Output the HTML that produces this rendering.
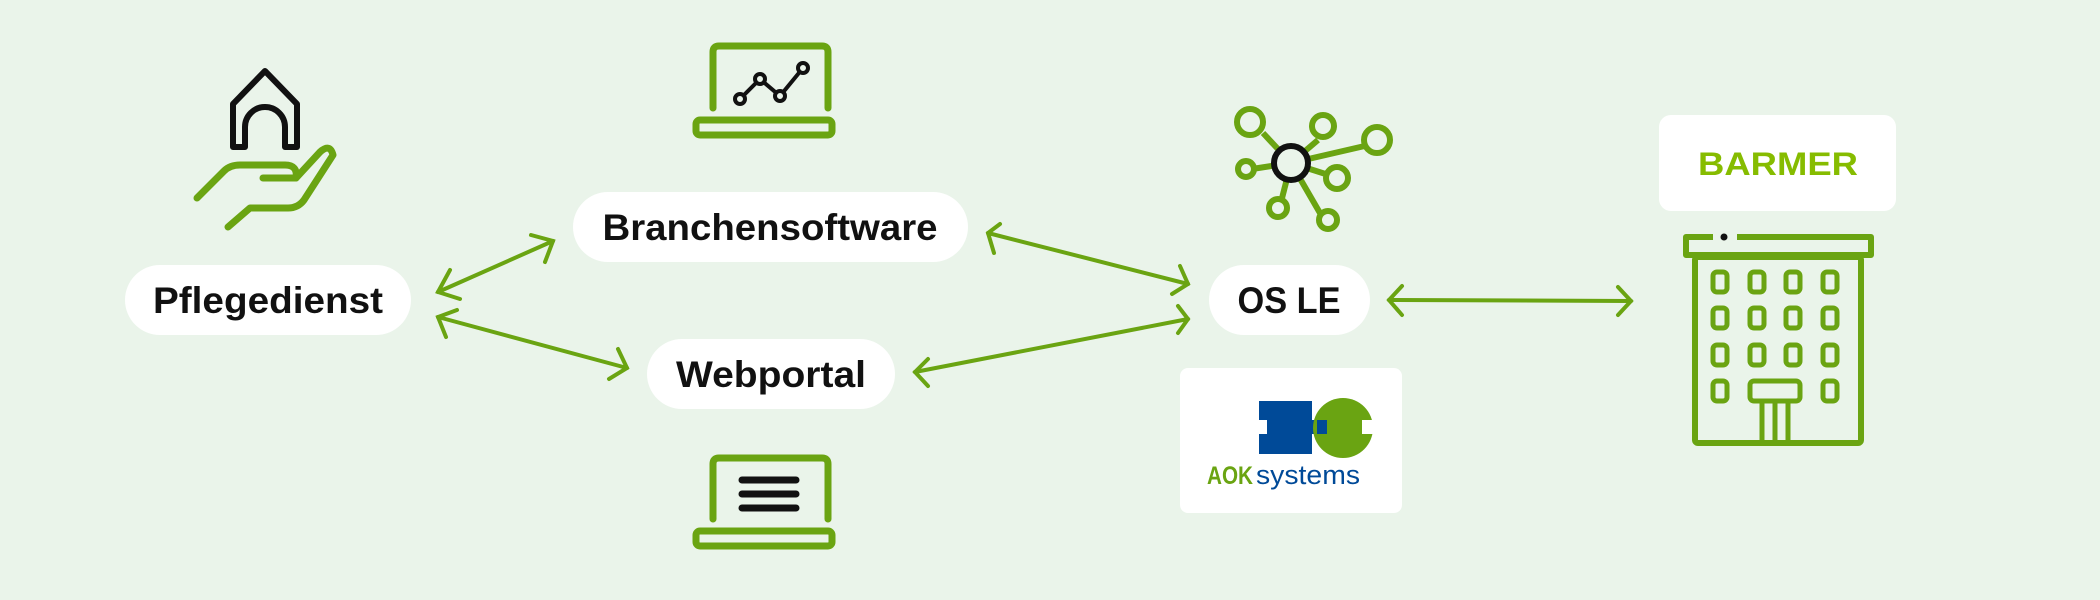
<!DOCTYPE html>
<html><head><meta charset="utf-8"><style>
html,body{margin:0;padding:0;background:#eaf4ea;}
svg{display:block}
text{font-family:"Liberation Sans",sans-serif;}
</style></head><body>
<svg width="2100" height="600" viewBox="0 0 2100 600" xmlns="http://www.w3.org/2000/svg">
<rect width="2100" height="600" fill="#eaf4ea"/>
<g fill="#fff">
<rect x="125" y="265" width="286" height="70" rx="35"/>
<rect x="573" y="192" width="395" height="70" rx="35"/>
<rect x="647" y="339" width="248" height="70" rx="35"/>
<rect x="1209" y="265" width="161" height="70" rx="35"/>
<rect x="1180" y="368" width="222" height="145" rx="8"/>
<rect x="1659" y="115" width="237" height="96" rx="12"/>
</g>
<g font-size="37" font-weight="bold" fill="#111" text-anchor="middle">
<text x="268" y="313" textLength="230" lengthAdjust="spacingAndGlyphs">Pflegedienst</text>
<text x="770" y="240" textLength="335" lengthAdjust="spacingAndGlyphs">Branchensoftware</text>
<text x="771" y="387" textLength="190" lengthAdjust="spacingAndGlyphs">Webportal</text>
<text x="1289" y="313" textLength="103" lengthAdjust="spacingAndGlyphs">OS LE</text>
</g>
<text x="1778" y="175" font-size="32" font-weight="bold" fill="#86bc00" text-anchor="middle" textLength="160" lengthAdjust="spacingAndGlyphs">BARMER</text>
<!-- AOK logo -->
<rect x="1259" y="401" width="53" height="53" fill="#004a98"/>
<rect x="1259" y="420" width="8" height="14" fill="#fff"/>
<rect x="1305" y="420" width="12" height="14" fill="#004a98"/>
<circle cx="1343" cy="428" r="30" fill="#6aa412"/>
<rect x="1317" y="420" width="10" height="14" fill="#004a98"/>
<rect x="1362" y="420" width="12" height="14" fill="#fff"/>
<text x="1207" y="484" font-size="25" font-weight="bold" fill="#6aa412" textLength="46" lengthAdjust="spacingAndGlyphs">AOK</text>
<text x="1256" y="484" font-size="27" fill="#004a98" textLength="104" lengthAdjust="spacingAndGlyphs">systems</text>
<!-- arrows -->
<g stroke="#6aa412" stroke-width="4" fill="none" stroke-linecap="round">
<line x1="438" y1="292" x2="553" y2="241"/>
<polyline points="450,270 438,292 460,299"/>
<polyline points="531,235 553,241 545,262"/>
<line x1="438" y1="317" x2="627" y2="368"/>
<polyline points="446,337 438,317 457,310"/>
<polyline points="618,349 627,368 609,379"/>
<line x1="988" y1="233" x2="1188" y2="284"/>
<polyline points="1000,224 988,233 994,253"/>
<polyline points="1180,266 1188,284 1172,294"/>
<line x1="915" y1="372" x2="1188" y2="319"/>
<polyline points="928,359 915,372 928,386"/>
<polyline points="1178,306 1188,319 1178,333"/>
<line x1="1389" y1="300" x2="1631" y2="301"/>
<polyline points="1402,286 1389,300 1402,315"/>
<polyline points="1618,287 1631,301 1618,315"/>
</g>
<!-- laptops -->
<g stroke="#6aa412" stroke-width="7" fill="none" stroke-linecap="round" stroke-linejoin="round">
<path d="M713 108 V52 Q713 46 719 46 H822 Q828 46 828 52 V108"/>
<rect x="696" y="120" width="136" height="15" rx="4"/>
<path d="M713 519 V464 Q713 458 719 458 H822 Q828 458 828 464 V519"/>
<rect x="696" y="531" width="136" height="15" rx="4"/>
</g>
<g stroke="#111" stroke-width="4" fill="none">
<polyline points="740,99 760,79 780,96 803,68"/>
<g fill="#eaf4ea"><circle cx="740" cy="99" r="5"/><circle cx="760" cy="79" r="5"/><circle cx="780" cy="96" r="5"/><circle cx="803" cy="68" r="5"/></g>
</g>
<g stroke="#111" stroke-width="7" stroke-linecap="round">
<line x1="742" y1="480" x2="796" y2="480"/><line x1="742" y1="494" x2="796" y2="494"/><line x1="742" y1="508" x2="796" y2="508"/>
</g>
<!-- house & hand -->
<path d="M233 147 V104 L265 71 L297 104 V147 H285 V127 A20 20 0 0 0 245 127 V147 Z" stroke="#111" stroke-width="6" fill="none" stroke-linejoin="round"/>
<g stroke="#6aa412" stroke-width="7" fill="none" stroke-linecap="round" stroke-linejoin="round">
<path d="M197 198 L224 171 Q230 165 240 165 H285 Q298 165 296 178 H263"/>
<path d="M296 178 L320 152 Q330 143 333 155 L304 200 Q298 208 288 208 H250 L228 227"/>
</g>
<!-- network -->
<g stroke="#6aa412" stroke-width="6" fill="none">
<line x1="1291" y1="163" x2="1263" y2="133"/>
<line x1="1291" y1="163" x2="1318" y2="140"/>
<line x1="1291" y1="163" x2="1369" y2="145"/>
<line x1="1291" y1="163" x2="1252" y2="169"/>
<line x1="1291" y1="163" x2="1335" y2="177"/>
<line x1="1291" y1="163" x2="1280" y2="206"/>
<line x1="1291" y1="163" x2="1324" y2="220"/>
<circle cx="1250" cy="122" r="13" fill="#eaf4ea"/>
<circle cx="1323" cy="126" r="11" fill="#eaf4ea"/>
<circle cx="1377" cy="140" r="13" fill="#eaf4ea"/>
<circle cx="1246" cy="169" r="8" fill="#eaf4ea"/>
<circle cx="1337" cy="178" r="11" fill="#eaf4ea"/>
<circle cx="1278" cy="208" r="9" fill="#eaf4ea"/>
<circle cx="1328" cy="220" r="9" fill="#eaf4ea"/>
</g>
<circle cx="1291" cy="163" r="17" stroke="#111" stroke-width="6" fill="#eaf4ea"/>
<!-- building -->
<g stroke="#6aa412" stroke-width="6" fill="none" stroke-linejoin="round">
<path d="M1713 237 H1686 V255 H1871 V237 H1737"/>
<rect x="1695" y="257" width="166" height="186" rx="3"/>
<g stroke-width="5">
<rect x="1713" y="272" width="14" height="20" rx="4"/><rect x="1750" y="272" width="14" height="20" rx="4"/><rect x="1786" y="272" width="14" height="20" rx="4"/><rect x="1823" y="272" width="14" height="20" rx="4"/>
<rect x="1713" y="308" width="14" height="20" rx="4"/><rect x="1750" y="308" width="14" height="20" rx="4"/><rect x="1786" y="308" width="14" height="20" rx="4"/><rect x="1823" y="308" width="14" height="20" rx="4"/>
<rect x="1713" y="345" width="14" height="20" rx="4"/><rect x="1750" y="345" width="14" height="20" rx="4"/><rect x="1786" y="345" width="14" height="20" rx="4"/><rect x="1823" y="345" width="14" height="20" rx="4"/>
<rect x="1713" y="381" width="14" height="20" rx="4"/><rect x="1750" y="381" width="50" height="20" rx="4"/><rect x="1823" y="381" width="14" height="20" rx="4"/>
<path d="M1762 401 V440 M1775 401 V440 M1788 401 V440"/>
</g>
</g>
<circle cx="1724" cy="237" r="3.5" fill="#111"/>
</svg>
</body></html>
